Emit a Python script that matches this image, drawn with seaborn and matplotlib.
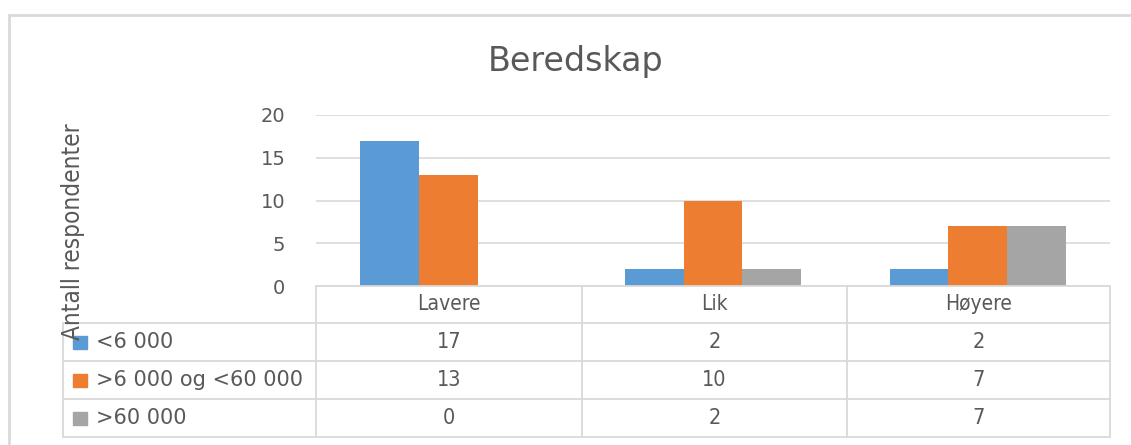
import pandas as pd
import seaborn as sns
import matplotlib.pyplot as plt
from matplotlib.patches import Rectangle

# data
kategorier = ["Lavere", "Lik", "Høyere"]
grupper = ["<6 000", ">6 000 og <60 000", ">60 000"]
under_6000 = [17, 2, 2]
mellom = [13, 10, 7]
over_60000 = [0, 2, 7]

farger = ["#5B9BD5", "#ED7D31", "#A5A5A5"]
tekst = "#595959"
linje = "#D9D9D9"

W, H = 1131, 445


def fx(px):
    return px / W


def fy(py):
    return 1 - py / H


def build_df():
    rows = []
    for gruppe, verdier in zip(grupper, [under_6000, mellom, over_60000]):
        for kat, v in zip(kategorier, verdier):
            rows.append({"kategori": kat, "gruppe": gruppe, "antall": v})
    return pd.DataFrame(rows)


def main():
    sns.set_style("white")
    plt.rcParams["font.family"] = ["DejaVu Sans"]
    df = build_df()

    fig = plt.figure(figsize=(W / 100, H / 100), dpi=100)

    # chart border
    fig.patches.append(Rectangle((fx(9), fy(460)), fx(1140) - fx(9), fy(15) - fy(460),
                                 transform=fig.transFigure, fill=False,
                                 edgecolor="#D9D9D9", linewidth=2))

    ax = fig.add_axes([fx(316), fy(286), fx(1110) - fx(316), fy(115) - fy(286)])
    sns.barplot(data=df, x="kategori", y="antall", hue="gruppe", order=kategorier,
                hue_order=grupper, palette=farger, width=0.665, gap=0,
                saturation=1, ax=ax, legend=False, linewidth=0)
    ax.set_xlim(-0.5, 2.5)
    ax.set_ylim(0, 20)
    ax.set_yticks([0, 5, 10, 15, 20])
    ax.yaxis.grid(True, color=linje, linewidth=1.2)
    ax.set_axisbelow(True)
    ax.set_xticks([])
    ax.set_xlabel("")
    ax.set_ylabel("")
    for s in ax.spines.values():
        s.set_visible(False)
    ax.tick_params(axis="y", length=0, pad=22, labelsize=14, labelcolor=tekst)

    fig.text(fx(576), fy(61), "Beredskap", ha="center", va="center",
             fontsize=24, color=tekst)
    fig.text(fx(73), fy(232), "Antall respondenter", rotation=90, ha="center",
             va="center", fontsize=17.5, color=tekst, fontstretch="condensed")

    # data table
    tab = fig.add_axes([0, 0, 1, 1], facecolor="none")
    tab.set_xlim(0, W)
    tab.set_ylim(H, 0)
    tab.axis("off")
    col_x = [316, 582, 847, 1110]
    row_y = [286, 323, 361, 399, 437]
    kw = dict(color=linje, linewidth=1.3)
    tab.plot([col_x[0], col_x[-1]], [row_y[0], row_y[0]], **kw)
    for y in row_y[1:]:
        tab.plot([63, col_x[-1]], [y, y], **kw)
    for x in col_x:
        tab.plot([x, x], [row_y[0], row_y[-1]], **kw)
    tab.plot([63, 63], [row_y[1], row_y[-1]], **kw)

    for j, kat in enumerate(kategorier):
        cx = (col_x[j] + col_x[j + 1]) / 2
        tab.text(cx, (row_y[0] + row_y[1]) / 2, kat, ha="center", va="center",
                 fontsize=15, color=tekst, fontstretch="condensed")
    for i, (gruppe, verdier) in enumerate(zip(grupper, [under_6000, mellom, over_60000])):
        cy = (row_y[i + 1] + row_y[i + 2]) / 2
        tab.add_patch(Rectangle((73, cy - 6), 14, 13, color=farger[i]))
        tab.text(96, cy, gruppe, ha="left", va="center", fontsize=15, color=tekst)
        for j, v in enumerate(verdier):
            cx = (col_x[j] + col_x[j + 1]) / 2
            tab.text(cx, cy, str(v), ha="center", va="center", fontsize=15.5,
                     color=tekst, fontstretch="condensed")

    fig.savefig("out.png", dpi=100)


if __name__ == "__main__":
    main()
